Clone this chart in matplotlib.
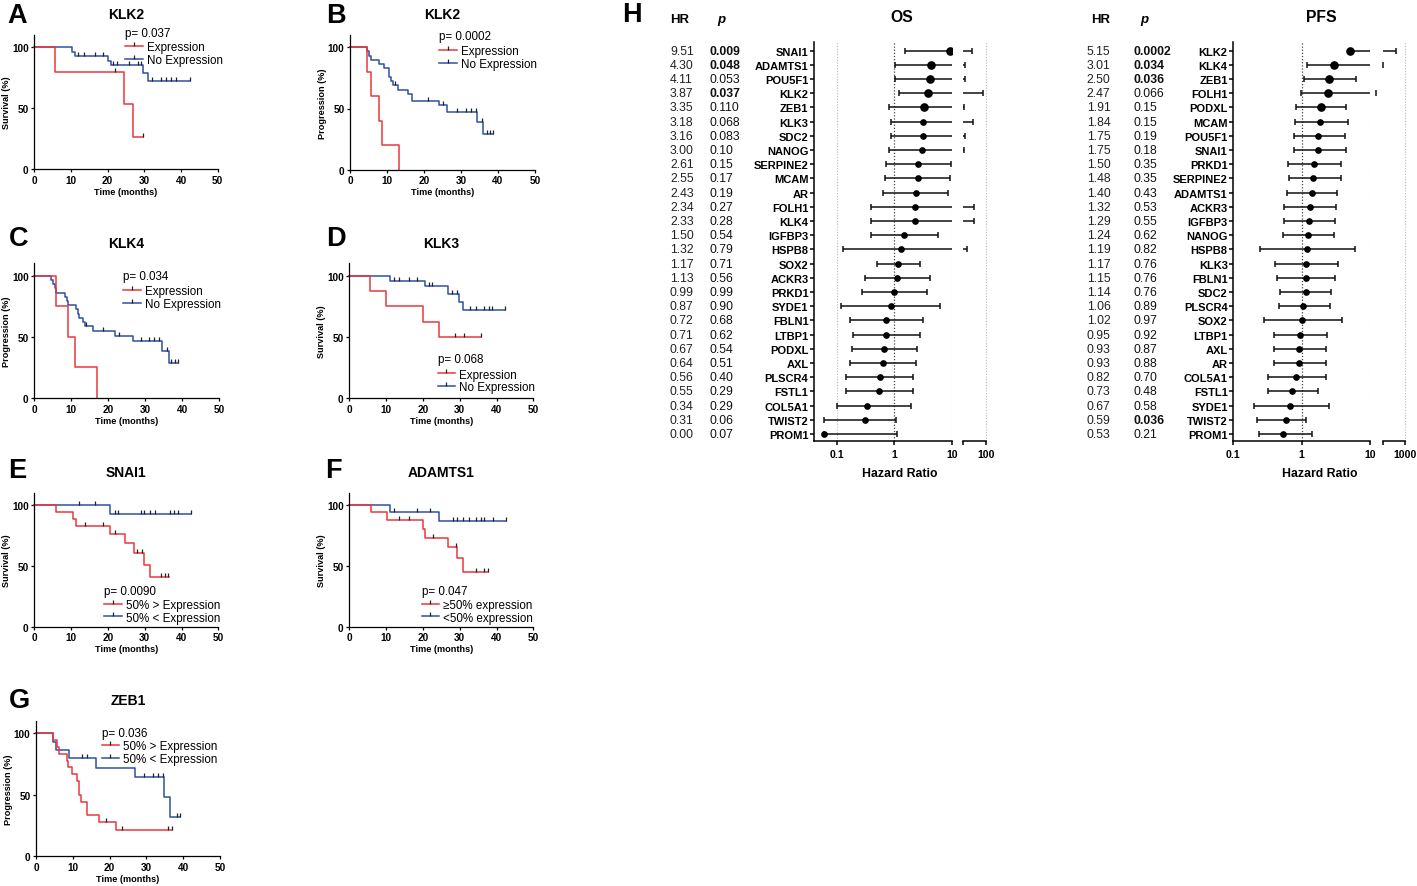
import numpy as np
import matplotlib
matplotlib.use("Agg")
import matplotlib.pyplot as plt
from matplotlib.lines import Line2D
from matplotlib import ticker, transforms

W, H = 1417, 887
plt.rcParams['font.family'] = ['Liberation Sans', 'DejaVu Sans']

RED = '#e8383d'
BLUE = '#2e4fa3'

# ---------------- Kaplan-Meier data (time in months, % surviving) ----------------
a_exp_t = [0, 5.6, 24.5, 27.0, 29.7]
a_exp_s = [100, 80, 53.3, 26.7, 26.7]
a_exp_c = [22.0, 29.7]
a_no_t = [0, 10.2, 11.1, 20.0, 20.8, 29.6, 31.0, 42.5]
a_no_s = [100, 96.3, 92.6, 88.9, 85.2, 78.5, 72.7, 72.7]
a_no_c = [11.8, 13.5, 16.5, 18.7, 21.5, 22.5, 25.7, 28.2, 29.2, 32.0, 34.5, 36.0, 37.3, 38.6, 42.5]

b_exp_t = [0, 4.5, 5.7, 7.9, 8.6, 13.3]
b_exp_s = [100, 80, 60, 40, 20, 0]
b_exp_c = []
b_no_t = [0, 4.6, 5.2, 5.8, 7.9, 9.2, 10.6, 11.0, 11.7, 13.0, 15.8, 16.7, 24.1, 26.1, 34.2, 36.0, 38.7]
b_no_s = [100, 96.6, 93.1, 89.7, 86.2, 82.8, 75.9, 72.4, 69.0, 65.5, 62.1, 56.5, 52.5, 47.2, 39.3, 29.5, 29.5]
b_no_c = [12.2, 21.2, 25.2, 28.8, 31.3, 32.6, 34.0, 35.6, 37.0, 37.9, 38.7]

c_exp_t = [0, 5.9, 9.2, 11.0, 16.9]
c_exp_s = [100, 75, 50, 25, 0]
c_exp_c = []
c_no_t = [0, 4.4, 5.0, 5.6, 6.0, 8.3, 8.8, 9.0, 11.3, 11.7, 12.2, 13.3, 13.7, 16.0, 21.8, 26.6, 34.5, 36.5, 39.0]
c_no_s = [100, 96.5, 93.1, 89.7, 86.2, 82.8, 79.3, 75.9, 72.4, 69.0, 65.5, 62.1, 58.6, 55.0, 51.0, 46.2, 38.5, 28.8, 28.8]
c_no_c = [13.9, 18.7, 23.0, 29.0, 31.1, 32.4, 33.8, 35.8, 37.0, 38.0, 39.0]

d_exp_t = [0, 5.6, 10.1, 20.1, 24.4, 35.7]
d_exp_s = [100, 87.5, 75, 62.5, 50, 50]
d_exp_c = [28.7, 31.2, 35.7]
d_no_t = [0, 11.0, 20.6, 26.9, 29.8, 30.8, 42.3]
d_no_s = [100, 95.7, 91.3, 85.2, 78.3, 71.8, 71.8]
d_no_c = [12.2, 13.6, 16.2, 18.5, 21.7, 22.6, 27.8, 29.2, 32.8, 34.4, 36.6, 38.0, 38.9, 42.3]

e_exp_t = [0, 5.9, 10.4, 11.3, 20.6, 24.6, 27.2, 29.8, 31.4, 36.6]
e_exp_s = [100, 94.1, 88.2, 82.4, 76.0, 68.9, 60.8, 50.7, 40.5, 40.5]
e_exp_c = [13.8, 18.8, 21.9, 27.8, 29.2, 34.4, 35.5, 36.4]
e_no_t = [0, 20.6, 42.5]
e_no_s = [100, 92.3, 92.3]
e_no_c = [12.2, 16.5, 22.0, 22.7, 29.1, 29.7, 31.4, 32.9, 36.9, 38.0, 39.1, 42.5]

f_exp_t = [0, 5.8, 10.3, 20.1, 20.6, 26.9, 29.3, 31.0, 37.8]
f_exp_s = [100, 93.8, 87.5, 80.0, 72.9, 65.0, 56.0, 44.5, 44.5]
f_exp_c = [13.6, 16.3, 22.8, 28.9, 34.4, 36.6, 37.8]
f_no_t = [0, 11.1, 24.4, 42.6]
f_no_s = [100, 94.0, 86.4, 86.4]
f_no_c = [12.1, 18.5, 21.9, 28.1, 29.2, 31.0, 32.6, 34.4, 35.7, 36.6, 39.0, 42.6]

g_exp_t = [0, 4.7, 5.8, 6.3, 8.3, 8.8, 9.7, 11.2, 11.6, 12.1, 13.8, 17.1, 21.7, 37.0]
g_exp_s = [100, 94.4, 88.9, 83.3, 77.8, 72.2, 66.7, 61.1, 50.0, 44.4, 33.3, 27.8, 21.4, 21.4]
g_exp_c = [19.0, 23.3, 36.0, 37.0]
g_no_t = [0, 4.7, 5.4, 9.1, 16.3, 26.9, 34.8, 36.4, 39.1]
g_no_s = [100, 93.3, 86.7, 80.0, 72.0, 64.0, 48.0, 32.0, 32.0]
g_no_c = [12.4, 13.8, 29.3, 31.7, 33.1, 34.6, 38.2, 39.1]

lab_expr = ["Expression", "No Expression"]
lab_half = ["50% > Expression", "50% < Expression"]
lab_ge = ["\u226550% expression", "<50% expression"]

# ---------------- Forest plot data ----------------
genes_os = ["SNAI1", "ADAMTS1", "POU5F1", "KLK2", "ZEB1", "KLK3", "SDC2", "NANOG", "SERPINE2",
            "MCAM", "AR", "FOLH1", "KLK4", "IGFBP3", "HSPB8", "SOX2", "ACKR3", "PRKD1", "SYDE1",
            "FBLN1", "LTBP1", "PODXL", "AXL", "PLSCR4", "FSTL1", "COL5A1", "TWIST2", "PROM1"]
hr_os_txt = ["9.51", "4.30", "4.11", "3.87", "3.35", "3.18", "3.16", "3.00", "2.61", "2.55", "2.43",
             "2.34", "2.33", "1.50", "1.32", "1.17", "1.13", "0.99", "0.87", "0.72", "0.71", "0.67",
             "0.64", "0.56", "0.55", "0.34", "0.31", "0.00"]
p_os = ["0.009", "0.048", "0.053", "0.037", "0.110", "0.068", "0.083", "0.10", "0.15", "0.17", "0.19",
        "0.27", "0.28", "0.54", "0.79", "0.71", "0.56", "0.99", "0.90", "0.68", "0.62", "0.54", "0.51",
        "0.40", "0.29", "0.29", "0.06", "0.07"]
p_os_bold = [0, 1, 3]
hr_os = [9.51, 4.30, 4.11, 3.87, 3.35, 3.18, 3.16, 3.00, 2.61, 2.55, 2.43, 2.34, 2.33, 1.50, 1.32,
         1.17, 1.13, 0.99, 0.87, 0.72, 0.71, 0.67, 0.64, 0.56, 0.55, 0.34, 0.31, 0.06]
lo_os = [1.55, 1.01, 1.01, 1.19, 0.80, 0.89, 0.86, 0.82, 0.72, 0.68, 0.64, 0.40, 0.40, 0.40, 0.128,
         0.51, 0.31, 0.27, 0.12, 0.17, 0.19, 0.18, 0.17, 0.146, 0.146, 0.10, 0.059, 0.06]
hi_os = [37, 23, 23, 84, 22, 40, 23, 22, 9.8, 9.4, 8.7, 44, 44, 5.7, 26, 2.83, 4.2, 3.7, 6.3, 3.2,
         2.76, 2.48, 2.4, 2.08, 2.08, 1.95, 1.07, 1.11]

genes_pfs = ["KLK2", "KLK4", "ZEB1", "FOLH1", "PODXL", "MCAM", "POU5F1", "SNAI1", "PRKD1", "SERPINE2",
             "ADAMTS1", "ACKR3", "IGFBP3", "NANOG", "HSPB8", "KLK3", "FBLN1", "SDC2", "PLSCR4", "SOX2",
             "LTBP1", "AXL", "AR", "COL5A1", "FSTL1", "SYDE1", "TWIST2", "PROM1"]
hr_pfs = [5.15, 3.01, 2.50, 2.47, 1.91, 1.84, 1.75, 1.75, 1.50, 1.48, 1.40, 1.32, 1.29, 1.24, 1.19,
          1.17, 1.15, 1.14, 1.06, 1.02, 0.95, 0.93, 0.93, 0.82, 0.73, 0.67, 0.59, 0.53]
hr_pfs_txt = ["%.2f" % v for v in hr_pfs]
p_pfs = ["0.0002", "0.034", "0.036", "0.066", "0.15", "0.15", "0.19", "0.18", "0.35", "0.35", "0.43",
         "0.53", "0.55", "0.62", "0.82", "0.76", "0.76", "0.76", "0.89", "0.97", "0.92", "0.87", "0.88",
         "0.70", "0.48", "0.58", "0.036", "0.21"]
p_pfs_bold = [0, 1, 2, 26]
lo_pfs = [4.9, 1.2, 1.1, 0.97, 0.82, 0.81, 0.77, 0.78, 0.63, 0.65, 0.61, 0.56, 0.55, 0.54, 0.25, 0.41,
          0.44, 0.49, 0.46, 0.28, 0.40, 0.40, 0.40, 0.32, 0.32, 0.20, 0.22, 0.24]
hi_pfs = [405, 115, 6.2, 62, 4.47, 4.8, 4.3, 4.4, 3.8, 3.75, 3.27, 3.17, 3.1, 2.99, 6.05, 3.39, 3.1,
          2.7, 2.56, 3.9, 2.31, 2.28, 2.26, 2.24, 1.75, 2.5, 1.16, 1.4]

fig = plt.figure(figsize=(W / 100, H / 100), dpi=100)


def fx(x):
    return x / W


def fy(y):
    return 1 - y / H


def step_value(t, s, x):
    i = np.searchsorted(t, x, side='right') - 1
    return np.asarray(s)[np.clip(i, 0, len(s) - 1)]


def km_panel(px, letter, title, ylabel, exp, no, labels, pval, ptxt, leg):
    x0, x50, y0, y100 = px
    yspan = (y0 - y100) * 1.1
    ax = fig.add_axes([fx(x0), fy(y0), (x50 - x0) / W, yspan / H])

    def afr(x, y):
        return (x - x0) / (x50 - x0), (y0 - y) / yspan

    for (t, s, c), col in [(no, BLUE), (exp, RED)]:
        ax.step(t, s, where='post', color=col, lw=1.1, clip_on=False)
        if c:
            ax.plot(c, step_value(t, s, c), ls='none', marker=2, ms=3.2, mew=0.9,
                    color='#222222', clip_on=False)
    ax.set_xlim(0, 50)
    ax.set_ylim(0, 110)
    ax.set_xticks([0, 10, 20, 30, 40, 50])
    ax.set_yticks([0, 50, 100])
    for sp in ['top', 'right']:
        ax.spines[sp].set_visible(False)
    for sp in ['left', 'bottom']:
        ax.spines[sp].set_linewidth(0.9)
    ax.tick_params(width=0.9, length=2.5, pad=1.5, labelsize=7.2)
    for lb in ax.get_xticklabels() + ax.get_yticklabels():
        lb.set_fontweight('bold')
    ax.set_xlabel("Time (months)", fontsize=6.6, fontweight='bold', labelpad=1.5)
    ax.set_ylabel(ylabel, fontsize=6.6, fontweight='bold', labelpad=0.5)
    ax.text(0.5, 1.155, title, transform=ax.transAxes, ha='center', va='center',
            fontsize=10, fontweight='bold')
    fig.text(fx(letter[1]), fy(letter[2]), letter[0], ha='left', va='center',
             fontsize=19.5, fontweight='bold')
    # p value and legend
    ax.text(*afr(ptxt[0], ptxt[1]), pval, transform=ax.transAxes, ha='left', va='center', fontsize=8.4)
    handles = [Line2D([], [], color=RED, lw=1.1, marker=2, ms=3, mec='#222222', mew=0.9),
               Line2D([], [], color=BLUE, lw=1.1, marker=2, ms=3, mec='#222222', mew=0.9)]
    ax.legend(handles, labels, loc='upper left', bbox_to_anchor=afr(leg[0], leg[1]),
              frameon=False, fontsize=8.4, handlelength=1.5, handletextpad=0.35,
              labelspacing=0.05, borderpad=0, borderaxespad=0, numpoints=1)
    return ax


km_panel((34.3, 217.7, 170, 48.3), ("A", 7, 16), "KLK2", "Survival (%)",
         (a_exp_t, a_exp_s, a_exp_c), (a_no_t, a_no_s, a_no_c), lab_expr, "p= 0.037",
         (125, 34), (125, 42))
km_panel((350, 535, 170.7, 48.3), ("B", 326, 16), "KLK2", "Progression (%)",
         (b_exp_t, b_exp_s, b_exp_c), (b_no_t, b_no_s, b_no_c), lab_expr, "p= 0.0002",
         (439, 37.3), (439, 46))
km_panel((34.3, 219, 399, 276.7), ("C", 9, 239), "KLK4", "Progression (%)",
         (c_exp_t, c_exp_s, c_exp_c), (c_no_t, c_no_s, c_no_c), lab_expr, "p= 0.034",
         (122.7, 277.3), (123, 286))
km_panel((349.3, 533.3, 399, 276.7), ("D", 326, 239), "KLK3", "Survival (%)",
         (d_exp_t, d_exp_s, d_exp_c), (d_no_t, d_no_s, d_no_c), lab_expr, "p= 0.068",
         (437.7, 360), (437.7, 369.5))
km_panel((34.3, 218.3, 627.7, 505.7), ("E", 8, 471), "SNAI1", "Survival (%)",
         (e_exp_t, e_exp_s, e_exp_c), (e_no_t, e_no_s, e_no_c), lab_half, "p= 0.0090",
         (104.3, 591.7), (104.3, 600))
km_panel((349.3, 533.3, 627.7, 505.7), ("F", 325, 471), "ADAMTS1", "Survival (%)",
         (f_exp_t, f_exp_s, f_exp_c), (f_no_t, f_no_s, f_no_c), lab_ge, "p= 0.047",
         (421.7, 591.7), (421.7, 600))
km_panel((36, 220, 857, 734.3), ("G", 9, 701), "ZEB1", "Progression (%)",
         (g_exp_t, g_exp_s, g_exp_c), (g_no_t, g_no_s, g_no_c), lab_half, "p= 0.036",
         (101.7, 734.3), (101.7, 741.5))


# ---------------- Forest plots ----------------
def forest(main_px, seg_px, main_lim, seg_lim, seg_start, seg_label, grid_main, genes, hr, lo, hi,
           hr_txt, p_txt, p_bold, cols, title, title_x, xlab_x):
    top, bot = 43.3, 441.7
    n = len(genes)
    ylim = (n - 1 + (bot - 435) / 14.2, -(51.7 - top) / 14.2)
    ax = fig.add_axes([fx(main_px[0]), fy(bot), (main_px[1] - main_px[0]) / W, (bot - top) / H])
    ax2 = fig.add_axes([fx(seg_px[0]), fy(bot), (seg_px[1] - seg_px[0]) / W, (bot - top) / H])
    for a, lim in [(ax, main_lim), (ax2, seg_lim)]:
        a.set_xscale('log')
        a.set_xlim(lim)
        a.set_ylim(ylim)
        a.xaxis.set_minor_locator(ticker.NullLocator())
        a.spines['top'].set_visible(False)
        a.spines['right'].set_visible(False)
        a.spines['bottom'].set_linewidth(1.1)
        a.tick_params(axis='x', width=1.1, length=3, pad=3, labelsize=7.6)
    ax2.spines['left'].set_visible(False)
    ax2.spines['bottom'].set_bounds(seg_start, seg_lim[1])
    ax2.set_yticks([])
    ax.spines['left'].set_linewidth(1.1)

    for v in grid_main:
        if v == 1:
            ax.axvline(v, ls=(0, (1, 1.5)), color='#444444', lw=0.9, zorder=0)
        else:
            ax.axvline(v, ls=(0, (1, 1.5)), color='#bbbbbb', lw=0.8, zorder=0)
    ax2.axvline(seg_lim[1], ls=(0, (1, 1.5)), color='#bbbbbb', lw=0.8, zorder=0, clip_on=False)

    k = '#111111'
    for i in range(n):
        ax.hlines(i, max(lo[i], main_lim[0]), min(hi[i], main_lim[1]), color=k, lw=1.1)
        if lo[i] > main_lim[0]:
            ax.plot([lo[i]], [i], marker='|', ms=5, mew=1.1, color=k)
        if hi[i] <= main_lim[1]:
            ax.plot([hi[i]], [i], marker='|', ms=5, mew=1.1, color=k)
        else:
            ax2.hlines(i, min(seg_start, hi[i]), hi[i], color=k, lw=1.1, clip_on=False)
            ax2.plot([hi[i]], [i], marker='|', ms=5, mew=1.1, color=k, clip_on=False)
    ax.plot(hr[:5], range(5), 'o', ms=5.2, color='black', zorder=5)
    ax.plot(hr[5:], range(5, n), 'o', ms=3.8, color='black', zorder=5)

    ax.set_yticks(range(n))
    ax.set_yticklabels(genes, fontsize=8, fontweight='bold')
    ax.tick_params(axis='y', width=1.1, length=3, pad=1)
    ax.set_xticks([0.1, 1, 10])
    ax.set_xticklabels(["0.1", "1", "10"], fontweight='bold')
    ax2.set_xticks([seg_start, seg_lim[1]])
    ax2.set_xticklabels(["", seg_label], fontweight='bold')

    tr = transforms.blended_transform_factory(fig.transFigure, ax.transData)
    for i in range(n):
        ax.text(fx(cols[0]), i, hr_txt[i], transform=tr, ha='left', va='center', fontsize=8.8,
                color='#222222')
        ax.text(fx(cols[1]), i, p_txt[i], transform=tr, ha='left', va='center', fontsize=8.8,
                fontweight='bold' if i in p_bold else 'normal', color='#111111')
    fig.text(fx(cols[2]), fy(20), "HR", ha='center', va='center', fontsize=9.5, fontweight='bold')
    fig.text(fx(cols[3]), fy(20), "p", ha='center', va='center', fontsize=9.5, fontweight='bold',
             style='italic')
    fig.text(fx(title_x), fy(17), title, ha='center', va='center', fontsize=11.3, fontweight='bold')
    fig.text(fx(xlab_x), fy(474), "Hazard Ratio", ha='center', va='center', fontsize=8.8,
             fontweight='bold')


forest((814, 951.7), (963, 985.7), (0.04, 10), (20, 100), 20, "100", [0.1, 1, 10],
       genes_os, hr_os, lo_os, hi_os, hr_os_txt, p_os, p_os_bold,
       (670, 709.3, 680, 721.7), "OS", 901.7, 900)
forest((1233.3, 1370), (1376, 1405), (0.1, 10), (60, 1000), 115, "1000", [1, 10],
       genes_pfs, hr_pfs, lo_pfs, hi_pfs, hr_pfs_txt, p_pfs, p_pfs_bold,
       (1086.7, 1133.3, 1100.7, 1144.3), "PFS", 1321.7, 1319.3)
fig.text(fx(622), fy(15), "H", ha='left', va='center', fontsize=19.5, fontweight='bold')

fig.savefig("out.png", dpi=100)
